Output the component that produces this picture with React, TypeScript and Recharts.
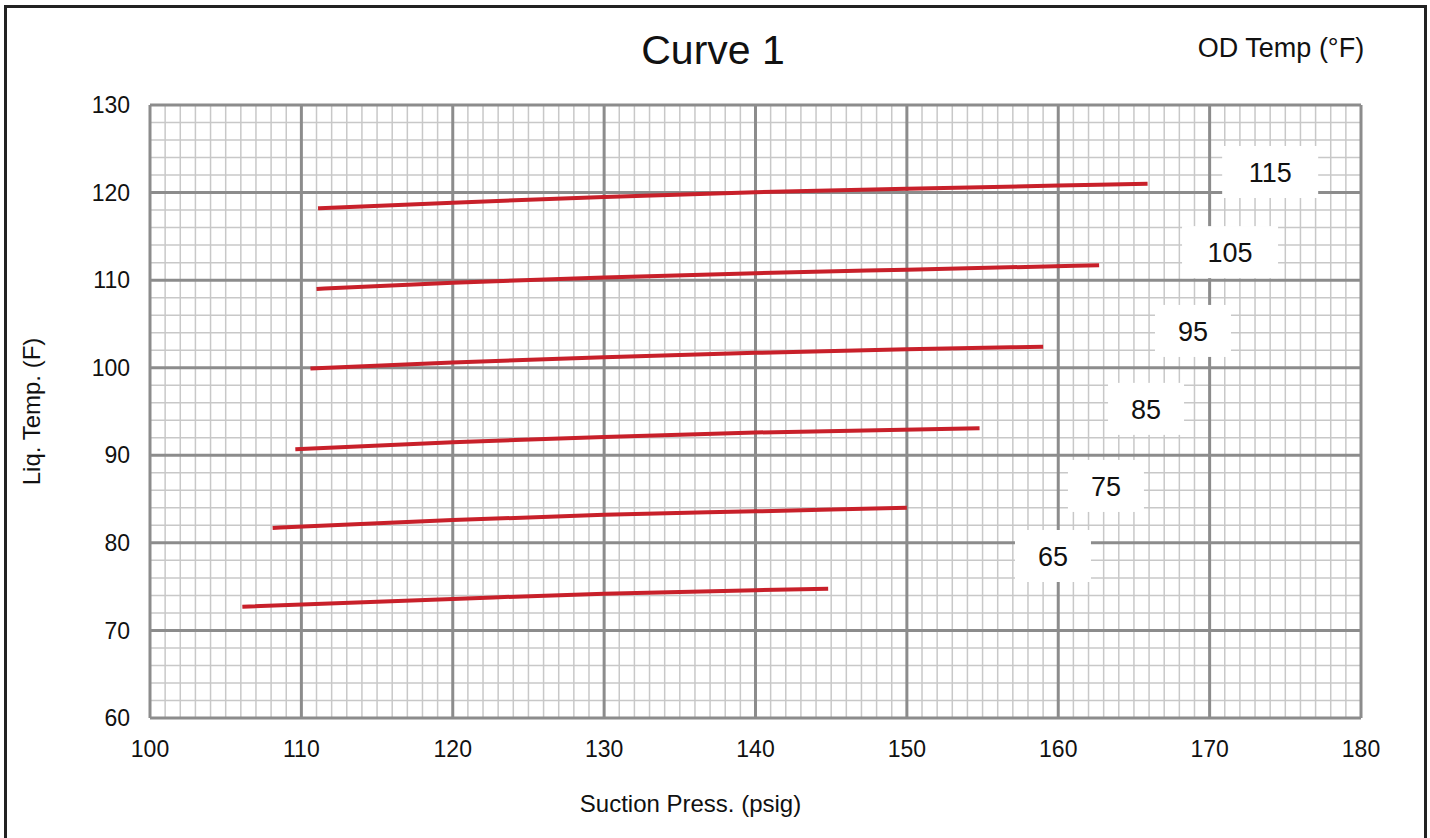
import React from 'react'
import { LineChart, Line, XAxis, YAxis, ReferenceLine, ReferenceDot, Label } from 'recharts'

// axis ticks
const xTicks = [100, 110, 120, 130, 140, 150, 160, 170, 180]
const yTicks = [60, 70, 80, 90, 100, 110, 120, 130]
const xMinor = Array.from({ length: 81 }, (_, i) => 100 + i).filter(v => v % 10 !== 0)
const yMinor = Array.from({ length: 36 }, (_, i) => 60 + i * 2).filter(v => v % 10 !== 0)

// OD temp curves: suction press (psig) vs liq. temp (F)
const odTemps = [115, 105, 95, 85, 75, 65]
const press115 = [111.1, 120, 130, 140, 150, 160, 165.9]
const temp115 = [118.2, 118.85, 119.5, 120.05, 120.45, 120.8, 121.0]
const press105 = [111.0, 120, 130, 140, 150, 162.7]
const temp105 = [109.0, 109.7, 110.3, 110.8, 111.2, 111.7]
const press95 = [110.6, 120, 130, 140, 150, 159.0]
const temp95 = [99.9, 100.6, 101.2, 101.7, 102.1, 102.4]
const press85 = [109.6, 120, 130, 140, 154.8]
const temp85 = [90.7, 91.5, 92.1, 92.6, 93.1]
const press75 = [108.1, 120, 130, 140, 150]
const temp75 = [81.7, 82.6, 83.2, 83.6, 84.0]
const press65 = [106.1, 120, 130, 140, 144.8]
const temp65 = [72.7, 73.6, 74.2, 74.6, 74.75]

// where the OD temp tags sit (data coords)
const tagPress = [174, 171.35, 168.9, 165.8, 163.15, 159.65]
const tagTemp = [122.35, 113.2, 104.2, 95.3, 86.5, 78.5]

const pressSets = [press115, press105, press95, press85, press75, press65]
const tempSets = [temp115, temp105, temp95, temp85, temp75, temp65]
const curves = odTemps.map((od, i) => ({
  od,
  data: pressSets[i].map((x, j) => ({ x, y: tempSets[i][j] })),
}))

const FONT = '"Liberation Sans", Arial, Helvetica, sans-serif'
const RED = '#c8202a'
const MINOR = '#c8c8c8'
const MAJOR = '#8c8c8c'

function Tag({ cx, cy, value }: any) {
  const w = String(value).length > 2 ? 96 : 76
  const h = 52
  return (
    <g>
      <rect x={cx - w / 2} y={cy - h / 2} width={w} height={h} fill="#fff" />
      <text x={cx} y={cy} dy="0.36em" textAnchor="middle" fontSize={27} fill="#111" fontFamily={FONT}>{value}</text>
    </g>
  )
}

export default function App() {
  return (
    <div style={{ position: 'absolute', left: 0, top: 0, width: 1430, height: 838, overflow: 'hidden', background: '#fff', fontFamily: FONT }}>
      <div style={{ position: 'absolute', left: 4, top: 5, width: 1417, height: 900, border: '3px solid #222' }} />
      <LineChart width={1430} height={838} margin={{ top: 105, right: 69, left: 0, bottom: 0 }} style={{ position: 'absolute', left: 0, top: 0 }}>
        <XAxis type="number" dataKey="x" domain={[100, 180]} ticks={xTicks} allowDataOverflow
          axisLine={false} tickLine={false} height={120} tickMargin={17}
          tick={{ fontSize: 23, fill: '#111', fontFamily: FONT }}>
          <Label value="Suction Press. (psig)" position="insideBottom" offset={26} dx={-65}
            style={{ fontSize: 24, fill: '#111', fontFamily: FONT }} />
        </XAxis>
        <YAxis type="number" dataKey="y" domain={[60, 130]} ticks={yTicks} allowDataOverflow
          axisLine={false} tickLine={false} width={150} tickMargin={14}
          tick={{ fontSize: 23, fill: '#111', fontFamily: FONT }}>
          <Label value="Liq. Temp. (F)" angle={-90} position="insideLeft" offset={31}
            style={{ fontSize: 24, fill: '#111', fontFamily: FONT, textAnchor: 'middle' }} />
        </YAxis>
        {xMinor.map(v => <ReferenceLine key={'xm' + v} x={v} stroke={MINOR} strokeWidth={1.5} />)}
        {yMinor.map(v => <ReferenceLine key={'ym' + v} y={v} stroke={MINOR} strokeWidth={1.5} />)}
        {xTicks.map(v => <ReferenceLine key={'xM' + v} x={v} stroke={MAJOR} strokeWidth={3} />)}
        {yTicks.map(v => <ReferenceLine key={'yM' + v} y={v} stroke={MAJOR} strokeWidth={3} />)}
        {curves.map(c => (
          <Line key={c.od} data={c.data} dataKey="y" type="monotone" stroke={RED} strokeWidth={4}
            dot={false} activeDot={false} isAnimationActive={false} />
        ))}
        {odTemps.map((od, i) => (
          <ReferenceDot key={od} x={tagPress[i]} y={tagTemp[i]} r={0}
            shape={(p: any) => <Tag cx={p.cx} cy={p.cy} value={od} />} />
        ))}
      </LineChart>
      <svg width={1430} height={838} style={{ position: 'absolute', left: 0, top: 0, pointerEvents: 'none' }}>
        <text x={713} y={64} textAnchor="middle" fontSize={41} fill="#111" fontFamily={FONT}>Curve 1</text>
        <text x={1281} y={57} textAnchor="middle" fontSize={27} fill="#111" fontFamily={FONT}>OD Temp (°F)</text>
      </svg>
    </div>
  )
}
